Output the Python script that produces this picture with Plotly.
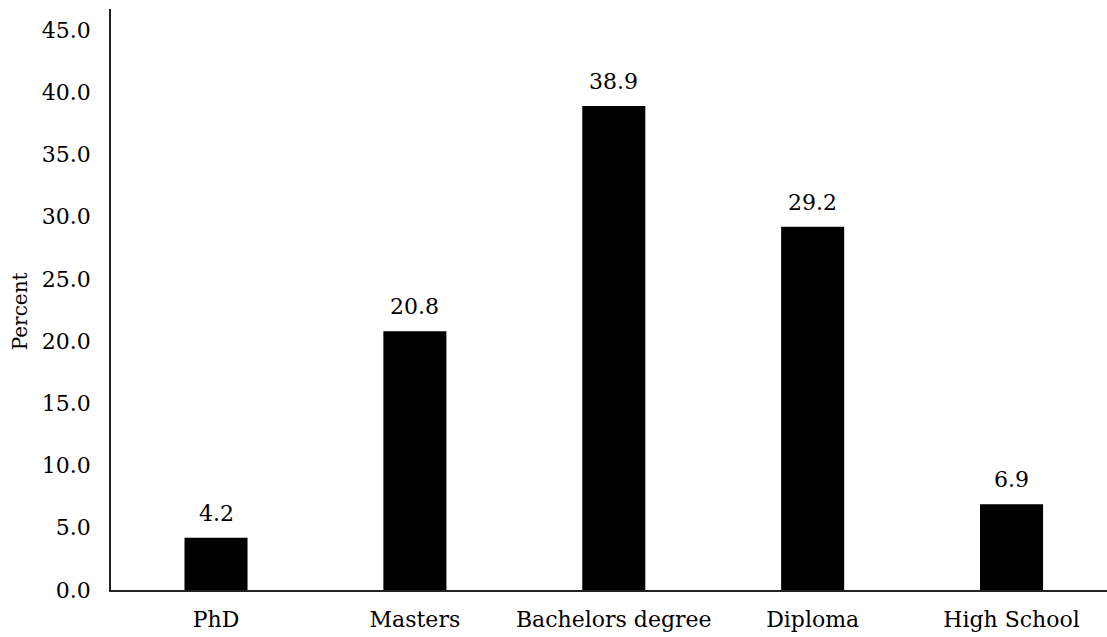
import plotly.graph_objects as go

categories = ["PhD", "Masters", "Bachelors degree", "Diploma", "High School"]
percent = [4.2, 20.8, 38.9, 29.2, 6.9]
y_ticks = [0, 5, 10, 15, 20, 25, 30, 35, 40, 45]
y_tick_text = [f"{v:.1f}" for v in y_ticks]
y_title = "Percent"

serif = "DejaVu Serif"
label_size = 22

fig = go.Figure(
    go.Bar(
        x=categories,
        y=percent,
        width=0.317,
        marker=dict(color="black", line=dict(color="black", width=0)),
        hoverinfo="x+y",
    )
)

# value labels sitting a little above each bar
for cat, val in zip(categories, percent):
    fig.add_annotation(
        x=cat,
        y=val,
        text=f"{val:.1f}",
        showarrow=False,
        yanchor="bottom",
        yshift=10,
        font=dict(family=serif, size=label_size, color="black"),
    )

# rotated y-axis title, placed a little below the axis midpoint
fig.add_annotation(
    xref="paper",
    x=0,
    xanchor="center",
    xshift=-91,
    yref="y",
    y=22.4,
    text=y_title,
    textangle=-90,
    showarrow=False,
    font=dict(family=serif, size=20, color="black"),
)

fig.update_layout(
    width=1107,
    height=637,
    margin=dict(l=111, r=0, t=9, b=47),
    paper_bgcolor="white",
    plot_bgcolor="white",
    showlegend=False,
    font=dict(family=serif, size=label_size, color="black"),
)

fig.update_xaxes(
    range=[-0.528, 4.48],
    showline=True,
    linecolor="#222",
    linewidth=1.5,
    showgrid=False,
    ticks="",
    tickfont=dict(family=serif, size=label_size, color="black"),
    ticklabelstandoff=9,
)

fig.update_yaxes(
    range=[0, 46.7],
    tickvals=y_ticks,
    ticktext=y_tick_text,
    showline=True,
    linecolor="#222",
    linewidth=1.5,
    showgrid=False,
    zeroline=False,
    ticks="",
    ticklabelstandoff=14,
    tickfont=dict(family=serif, size=label_size, color="black"),
)

fig.write_html("out.html")
